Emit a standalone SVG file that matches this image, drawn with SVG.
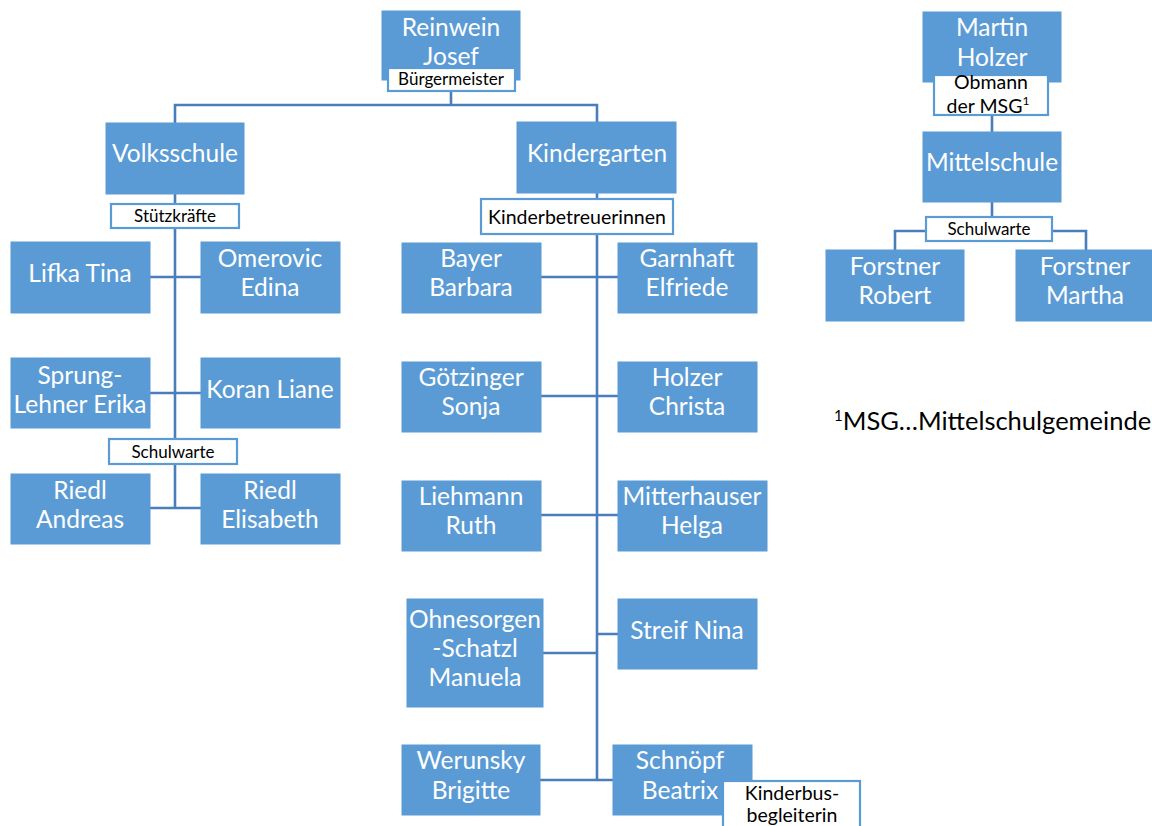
<svg xmlns="http://www.w3.org/2000/svg" width="1152" height="826" viewBox="0 0 1152 826">
<style>
.box{fill:#5B9BD5;stroke:#5B9BD5;stroke-width:1}
.lbl{fill:#FFFFFF;stroke:#5B9BD5;stroke-width:2.2}
.t{font-family:Lato,"Open Sans",sans-serif;font-size:24.5px;fill:#FFFFFF;text-anchor:middle}
.s{font-family:Lato,"Open Sans",sans-serif;font-size:17px;fill:#000000;text-anchor:middle}
.m{font-family:Lato,"Open Sans",sans-serif;font-size:19.5px;fill:#000000;text-anchor:middle}
.c{stroke:#4A7EBB;stroke-width:2.6;fill:none}
</style>
<rect width="1152" height="826" fill="#FFFFFF"/>
<g id="connectors">
<path class="c" d="M451,91 V105 M175,123 V105 H597 V122"/>
<path class="c" d="M175,194 V508 M150,277 H201 M150,393 H201 M150,508 H201"/>
<path class="c" d="M597,193 V780 M541,277 H618 M541,396 H618 M541,515 H618 M543,653 H597 M597,634 H618 M540,780 H613"/>
<path class="c" d="M992,115 V132 M992,202 V217 M895,250 V231 H1086 V250"/>
</g>
<g id="reinwein">
<rect class="box" x="382" y="11" width="138" height="69"/>
<text class="t" x="451" y="35.5">Reinwein</text>
<text class="t" x="451" y="64.5">Josef</text>
<rect class="lbl" x="388" y="68" width="127" height="23"/>
<text class="s" x="451" y="85">Bürgermeister</text>
</g>
<g id="volksschule">
<rect class="box" x="106" y="123" width="138" height="71"/>
<text class="t" x="175" y="162">Volksschule</text>
</g>
<g id="kindergarten">
<rect class="box" x="517" y="122" width="159" height="71"/>
<text class="t" x="597" y="161.5">Kindergarten</text>
</g>
<g id="stuetzkraefte">
<rect class="lbl" x="111" y="204" width="128" height="24"/>
<text class="s" x="175" y="222">Stützkräfte</text>
</g>
<g id="kinderbetreuerinnen">
<rect class="lbl" x="481" y="199" width="192" height="35"/>
<text class="m" x="577" y="223.5">Kinderbetreuerinnen</text>
</g>
<g id="lifka">
<rect class="box" x="11" y="242" width="139" height="71"/>
<text class="t" x="80" y="281.5">Lifka Tina</text>
</g>
<g id="omerovic">
<rect class="box" x="201" y="242" width="139" height="71"/>
<text class="t" x="270" y="266.5">Omerovic</text>
<text class="t" x="270" y="295.5">Edina</text>
</g>
<g id="sprung">
<rect class="box" x="11" y="358" width="139" height="70"/>
<text class="t" x="80" y="383.5">Sprung-</text>
<text class="t" x="80" y="412.5">Lehner Erika</text>
</g>
<g id="koran">
<rect class="box" x="201" y="358" width="139" height="70"/>
<text class="t" x="270" y="397.5">Koran Liane</text>
</g>
<g id="schulwarte-vs">
<rect class="lbl" x="109" y="439" width="128" height="25"/>
<text class="s" x="173" y="457.5">Schulwarte</text>
</g>
<g id="riedl-andreas">
<rect class="box" x="11" y="474" width="139" height="70"/>
<text class="t" x="80" y="498.5">Riedl</text>
<text class="t" x="80" y="527.5">Andreas</text>
</g>
<g id="riedl-elisabeth">
<rect class="box" x="201" y="474" width="139" height="70"/>
<text class="t" x="270" y="498.5">Riedl</text>
<text class="t" x="270" y="527.5">Elisabeth</text>
</g>
<g id="bayer">
<rect class="box" x="402" y="243" width="139" height="70"/>
<text class="t" x="471" y="266.5">Bayer</text>
<text class="t" x="471" y="295.5">Barbara</text>
</g>
<g id="garnhaft">
<rect class="box" x="618" y="243" width="139" height="70"/>
<text class="t" x="687" y="266.5">Garnhaft</text>
<text class="t" x="687" y="295.5">Elfriede</text>
</g>
<g id="goetzinger">
<rect class="box" x="402" y="362" width="139" height="70"/>
<text class="t" x="471" y="385.5">Götzinger</text>
<text class="t" x="471" y="414.5">Sonja</text>
</g>
<g id="holzer-christa">
<rect class="box" x="618" y="362" width="139" height="70"/>
<text class="t" x="687" y="385.5">Holzer</text>
<text class="t" x="687" y="414.5">Christa</text>
</g>
<g id="liehmann">
<rect class="box" x="402" y="481" width="139" height="70"/>
<text class="t" x="471" y="504.5">Liehmann</text>
<text class="t" x="471" y="533.5">Ruth</text>
</g>
<g id="mitterhauser">
<rect class="box" x="618" y="481" width="149" height="70"/>
<text class="t" x="692" y="504.5">Mitterhauser</text>
<text class="t" x="692" y="533.5">Helga</text>
</g>
<g id="ohnesorgen">
<rect class="box" x="407" y="599" width="136" height="108"/>
<text class="t" x="475" y="627.5">Ohnesorgen</text>
<text class="t" x="475" y="656.5">-Schatzl</text>
<text class="t" x="475" y="685.5">Manuela</text>
</g>
<g id="streif">
<rect class="box" x="618" y="599" width="139" height="70"/>
<text class="t" x="687" y="638.5">Streif Nina</text>
</g>
<g id="werunsky">
<rect class="box" x="402" y="745" width="138" height="70"/>
<text class="t" x="471" y="768.5">Werunsky</text>
<text class="t" x="471" y="798.5">Brigitte</text>
</g>
<g id="schnoepf">
<rect class="box" x="613" y="745" width="139" height="70"/>
<text class="t" x="680" y="768.5">Schnöpf</text>
<text class="t" x="680" y="798.5">Beatrix</text>
</g>
<g id="kinderbus">
<rect class="lbl" x="723" y="781" width="137" height="52"/>
<text class="m" x="792" y="800">Kinderbus-</text>
<text class="m" x="792" y="822">begleiterin</text>
</g>
<g id="martin-holzer">
<rect class="box" x="923" y="12" width="138" height="70"/>
<text class="t" x="992" y="35.5">Martin</text>
<text class="t" x="992" y="65.5">Holzer</text>
</g>
<g id="obmann">
<rect class="lbl" x="934" y="75" width="114" height="40"/>
<text class="m" x="991" y="89">Obmann</text>
<text class="m" x="988" y="113">der MSG<tspan font-size="12" dy="-8">1</tspan></text>
</g>
<g id="mittelschule">
<rect class="box" x="923" y="132" width="138" height="70"/>
<text class="t" x="992" y="170.5">Mittelschule</text>
</g>
<g id="schulwarte-ms">
<rect class="lbl" x="926" y="217" width="126" height="24"/>
<text class="s" x="989" y="235">Schulwarte</text>
</g>
<g id="forstner-robert">
<rect class="box" x="826" y="250" width="138" height="71"/>
<text class="t" x="895" y="274.5">Forstner</text>
<text class="t" x="895" y="303.5">Robert</text>
</g>
<g id="forstner-martha">
<rect class="box" x="1016" y="250" width="136" height="71"/>
<text class="t" x="1085" y="274.5">Forstner</text>
<text class="t" x="1085" y="303.5">Martha</text>
</g>
<g id="footnote">
<text x="834" y="430" font-family="Lato,'Open Sans',sans-serif" font-size="25.5" fill="#000000"><tspan font-size="15" dy="-9">1</tspan><tspan dy="9">MSG…Mittelschulgemeinde</tspan></text>
</g>
</svg>
